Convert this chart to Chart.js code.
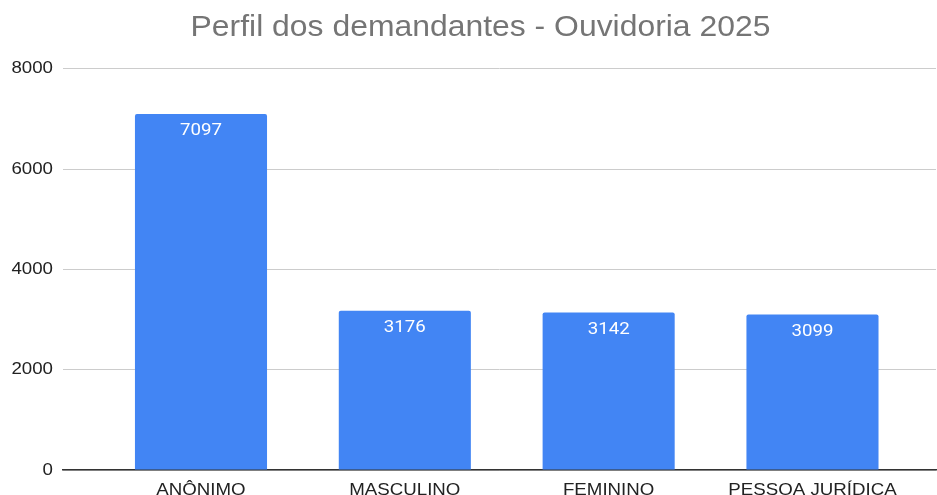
<!DOCTYPE html>
<html>
<head>
<meta charset="utf-8">
<script src="https://cdn.jsdelivr.net/npm/chart.js@4"></script>
<style>
  html, body { margin: 0; padding: 0; background: #fff; }
  #wrap { width: 937px; height: 495px; }
</style>
</head>
<body>
<div id="wrap"><canvas id="chart"></canvas></div>
<script>
const categories = ['ANÔNIMO', 'MASCULINO', 'FEMININO', 'PESSOA JURÍDICA'];
const values = [7097, 3176, 3142, 3099];
const yTicks = [0, 2000, 4000, 6000, 8000];

const FONT = '"Liberation Sans", Arial, sans-serif';
const LABEL_FONT = 'Roboto, "Liberation Sans", sans-serif';
const TEXT_STRETCH = 1.1; // the reference text is a bit wider than the font

const canvas = document.getElementById('chart');
const ctx2d = canvas.getContext('2d');
const rawFillText = ctx2d.fillText.bind(ctx2d);
ctx2d.fillText = function (text, x, y, maxWidth) {
  this.save();
  this.translate(x, y);
  this.scale(TEXT_STRETCH, 1);
  if (maxWidth === undefined) rawFillText(text, 0, 0);
  else rawFillText(text, 0, 0, maxWidth);
  this.restore();
};

// white value labels just inside the top of each bar
const valueLabels = {
  id: 'valueLabels',
  afterLayout(chart) {
    // title sits a little right of the canvas centre in the reference
    if (chart.titleBlock) chart.titleBlock.left += 25;
  },
  afterDatasetsDraw(chart) {
    const { ctx } = chart;
    const meta = chart.getDatasetMeta(0);
    ctx.save();
    ctx.fillStyle = '#ffffff';
    ctx.font = `17px ${LABEL_FONT}`;
    ctx.textAlign = 'center';
    ctx.textBaseline = 'middle';
    meta.data.forEach((bar, i) => {
      ctx.fillText(String(values[i]), bar.x, bar.y + 17);
    });
    ctx.restore();
  },
};

new Chart(canvas, {
  type: 'bar',
  data: {
    datasets: [
      {
        data: values.map((v, i) => ({ x: i, y: v })),
        backgroundColor: '#4285f4',
        borderRadius: { topLeft: 2, topRight: 2 },
        borderSkipped: 'bottom',
        categoryPercentage: 1,
        barPercentage: 0.648,
      },
    ],
  },
  options: {
    responsive: true,
    maintainAspectRatio: false,
    animation: false,
    layout: { padding: { left: 0, right: 1, top: 0, bottom: 0 } },
    plugins: {
      legend: { display: false },
      tooltip: { enabled: false },
      title: {
        display: true,
        text: 'Perfil dos demandantes - Ouvidoria 2025',
        color: '#757575',
        font: { family: FONT, size: 29, weight: 'normal' },
        padding: { top: 11, bottom: 23 },
      },
    },
    scales: {
      x: {
        type: 'linear',
        offset: false,
        min: -0.677,
        max: 3.606,
        afterFit: (scale) => { scale.height = 25; },
        grid: { display: false, drawTicks: false },
        border: { display: true, color: '#333333', width: 1.5 },
        ticks: {
          stepSize: 1,
          includeBounds: false,
          autoSkip: false,
          maxRotation: 0,
          padding: 10,
          color: '#222222',
          font: { family: FONT, size: 17 },
          callback: (v) => (Number.isInteger(v) && categories[v] !== undefined ? categories[v] : ''),
        },
      },
      y: {
        min: 0,
        max: 8000,
        afterFit: (scale) => { scale.width = 63; },
        afterBuildTicks: (scale) => { scale.ticks = yTicks.map((v) => ({ value: v })); },
        grid: { color: '#cccccc', drawTicks: false },
        border: { display: false },
        ticks: {
          padding: 10,
          color: '#222222',
          font: { family: FONT, size: 17 },
          callback: (v) => String(v),
        },
      },
    },
  },
  plugins: [valueLabels],
});
</script>
</body>
</html>
